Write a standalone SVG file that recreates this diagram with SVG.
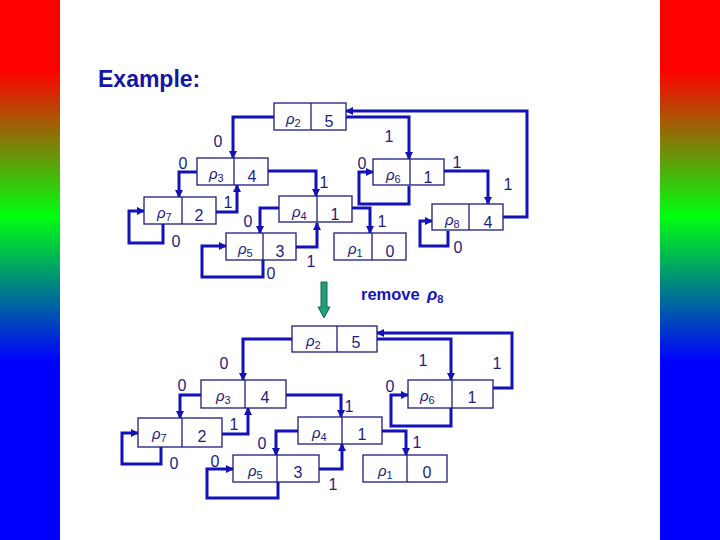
<svg xmlns="http://www.w3.org/2000/svg" width="720" height="540" viewBox="0 0 720 540">
<style>
.box rect{fill:#ffffff;stroke:#1c1c80;stroke-width:1.3}
.box line{stroke:#1c1c80;stroke-width:1.3}
.rho{font-family:"Liberation Sans",Arial,sans-serif;font-style:italic;font-size:15px;fill:#1c1c80}
.sub{font-size:11px;font-style:normal}
.num{font-family:"Liberation Sans",Arial,sans-serif;font-size:16px;fill:#1c1c80;text-anchor:middle}
.lbl{font-family:"Liberation Sans",Arial,sans-serif;font-size:16px;fill:#1c1c80;text-anchor:middle}
.conn path{fill:none;stroke:#1212b8;stroke-width:3;marker-end:url(#ah)}
</style>
<defs>
<linearGradient id="bar" x1="0" y1="0" x2="0" y2="1">
<stop offset="0" stop-color="#ff0000"/>
<stop offset="0.13" stop-color="#ff0000"/>
<stop offset="0.40" stop-color="#00ff10"/>
<stop offset="0.67" stop-color="#0000ff"/>
<stop offset="1" stop-color="#0000ff"/>
</linearGradient>
<marker id="ah" viewBox="0 0 8 8" refX="7" refY="4" markerWidth="8" markerHeight="8" orient="auto" markerUnits="userSpaceOnUse">
<path d="M0,0 L8,4 L0,8 z" fill="#1212b8"/>
</marker>
</defs>
<rect width="720" height="540" fill="#ffffff"/>
<rect x="0" y="0" width="60" height="540" fill="url(#bar)"/>
<rect x="660" y="0" width="60" height="540" fill="url(#bar)"/>
<text x="98" y="87" font-family="Liberation Sans,Arial,sans-serif" font-weight="bold" font-size="23" fill="#1515a8">Example:</text>

<g id="connectors-top" class="conn">
<path d="M274,117 H233 V158"/>
<path d="M346,117 H409 V159"/>
<path d="M503,217 H527 V111 H346"/>
<path d="M197,172 H179 V197"/>
<path d="M268,171 H316 V196"/>
<path d="M216,212 H237 V185"/>
<path d="M163,224 V243 H129 V211 H144"/>
<path d="M279,208 H260 V233"/>
<path d="M296,247 H317 V223"/>
<path d="M263,260 V277 H202 V246 H226"/>
<path d="M352,208 H370 V233"/>
<path d="M444,171 H488 V204"/>
<path d="M409,186 V204 H359 V172 H373"/>
<path d="M448,231 V246 H420 V221 H432"/>
</g>

<g id="top-p2" class="box"><rect x="274" y="103" width="72" height="27"/><line x1="311" y1="103" x2="311" y2="130"/><text class="rho" x="286" y="124">ρ<tspan class="sub" dy="3">2</tspan></text><text class="num" x="329" y="127">5</text></g>
<g id="top-p3" class="box"><rect x="197" y="158" width="71" height="27"/><line x1="234" y1="158" x2="234" y2="185"/><text class="rho" x="209" y="179">ρ<tspan class="sub" dy="3">3</tspan></text><text class="num" x="252" y="182">4</text></g>
<g id="top-p7" class="box"><rect x="144" y="197" width="72" height="27"/><line x1="182" y1="197" x2="182" y2="224"/><text class="rho" x="157" y="218">ρ<tspan class="sub" dy="3">7</tspan></text><text class="num" x="199" y="221">2</text></g>
<g id="top-p4" class="box"><rect x="279" y="196" width="73" height="26"/><line x1="317" y1="196" x2="317" y2="222"/><text class="rho" x="292" y="217">ρ<tspan class="sub" dy="3">4</tspan></text><text class="num" x="335" y="220">1</text></g>
<g id="top-p5" class="box"><rect x="226" y="233" width="70" height="27"/><line x1="263" y1="233" x2="263" y2="260"/><text class="rho" x="238" y="254">ρ<tspan class="sub" dy="3">5</tspan></text><text class="num" x="280" y="257">3</text></g>
<g id="top-p6" class="box"><rect x="373" y="159" width="71" height="26"/><line x1="410" y1="159" x2="410" y2="185"/><text class="rho" x="386" y="180">ρ<tspan class="sub" dy="3">6</tspan></text><text class="num" x="428" y="183">1</text></g>
<g id="top-p1" class="box"><rect x="334" y="233" width="72" height="27"/><line x1="372" y1="233" x2="372" y2="260"/><text class="rho" x="348" y="254">ρ<tspan class="sub" dy="3">1</tspan></text><text class="num" x="390" y="257">0</text></g>
<g id="top-p8" class="box"><rect x="432" y="204" width="71" height="26"/><line x1="469" y1="204" x2="469" y2="230"/><text class="rho" x="445" y="225">ρ<tspan class="sub" dy="3">8</tspan></text><text class="num" x="488" y="228">4</text></g>

<g id="labels-top">
<text class="lbl" x="218" y="147">0</text>
<text class="lbl" x="389" y="142">1</text>
<text class="lbl" x="508" y="190">1</text>
<text class="lbl" x="183" y="169">0</text>
<text class="lbl" x="324" y="188">1</text>
<text class="lbl" x="228" y="208">1</text>
<text class="lbl" x="176" y="247">0</text>
<text class="lbl" x="248" y="227">0</text>
<text class="lbl" x="311" y="267">1</text>
<text class="lbl" x="271" y="279">0</text>
<text class="lbl" x="382" y="227">1</text>
<text class="lbl" x="457" y="168">1</text>
<text class="lbl" x="362" y="169">0</text>
<text class="lbl" x="458" y="253">0</text>
</g>

<g id="remove-arrow">
<polygon points="321,282 327,282 327,307 330,307 324,318 318,307 321,307" fill="#1f9e78" stroke="#136b50" stroke-width="1"/>
</g>
<text x="361" y="300" font-family="Liberation Sans,Arial,sans-serif" font-weight="bold" font-size="16.5" fill="#1414c0">remove <tspan x="427" font-style="italic" font-size="17">ρ</tspan><tspan font-size="11" dy="3">8</tspan></text>

<g id="connectors-bottom" class="conn">
<path d="M292,339 H243 V380"/>
<path d="M377,339 H451 V380"/>
<path d="M493,388 H512 V333 H377"/>
<path d="M451,408 V426 H391 V395 H408"/>
<path d="M201,395 H180 V418"/>
<path d="M286,395 H341 V417"/>
<path d="M222,434 H248 V408"/>
<path d="M161,447 V464 H122 V433 H138"/>
<path d="M298,431 H276 V455"/>
<path d="M319,469 H342 V444"/>
<path d="M278,482 V498 H207 V469 H233"/>
<path d="M382,431 H406 V455"/>
</g>

<g id="bot-p2" class="box"><rect x="292" y="326" width="85" height="26"/><line x1="337" y1="326" x2="337" y2="352"/><text class="rho" x="306" y="346">ρ<tspan class="sub" dy="3">2</tspan></text><text class="num" x="356" y="348">5</text></g>
<g id="bot-p3" class="box"><rect x="201" y="380" width="85" height="28"/><line x1="245" y1="380" x2="245" y2="408"/><text class="rho" x="216" y="401">ρ<tspan class="sub" dy="3">3</tspan></text><text class="num" x="265" y="403">4</text></g>
<g id="bot-p7" class="box"><rect x="138" y="418" width="84" height="29"/><line x1="182" y1="418" x2="182" y2="447"/><text class="rho" x="152" y="439">ρ<tspan class="sub" dy="3">7</tspan></text><text class="num" x="202" y="442">2</text></g>
<g id="bot-p4" class="box"><rect x="298" y="417" width="84" height="27"/><line x1="342" y1="417" x2="342" y2="444"/><text class="rho" x="312" y="438">ρ<tspan class="sub" dy="3">4</tspan></text><text class="num" x="362" y="440">1</text></g>
<g id="bot-p5" class="box"><rect x="233" y="455" width="86" height="27"/><line x1="277" y1="455" x2="277" y2="482"/><text class="rho" x="248" y="476">ρ<tspan class="sub" dy="3">5</tspan></text><text class="num" x="298" y="478">3</text></g>
<g id="bot-p6" class="box"><rect x="408" y="380" width="85" height="28"/><line x1="452" y1="380" x2="452" y2="408"/><text class="rho" x="420" y="401">ρ<tspan class="sub" dy="3">6</tspan></text><text class="num" x="472" y="403">1</text></g>
<g id="bot-p1" class="box"><rect x="363" y="455" width="84" height="27"/><line x1="407" y1="455" x2="407" y2="482"/><text class="rho" x="378" y="476">ρ<tspan class="sub" dy="3">1</tspan></text><text class="num" x="427" y="478">0</text></g>

<g id="labels-bottom">
<text class="lbl" x="224" y="369">0</text>
<text class="lbl" x="423" y="366">1</text>
<text class="lbl" x="497" y="369">1</text>
<text class="lbl" x="390" y="392">0</text>
<text class="lbl" x="182" y="391">0</text>
<text class="lbl" x="349" y="412">1</text>
<text class="lbl" x="234" y="430">1</text>
<text class="lbl" x="174" y="469">0</text>
<text class="lbl" x="262" y="449">0</text>
<text class="lbl" x="333" y="490">1</text>
<text class="lbl" x="215" y="467">0</text>
<text class="lbl" x="417" y="448">1</text>
</g>
</svg>
